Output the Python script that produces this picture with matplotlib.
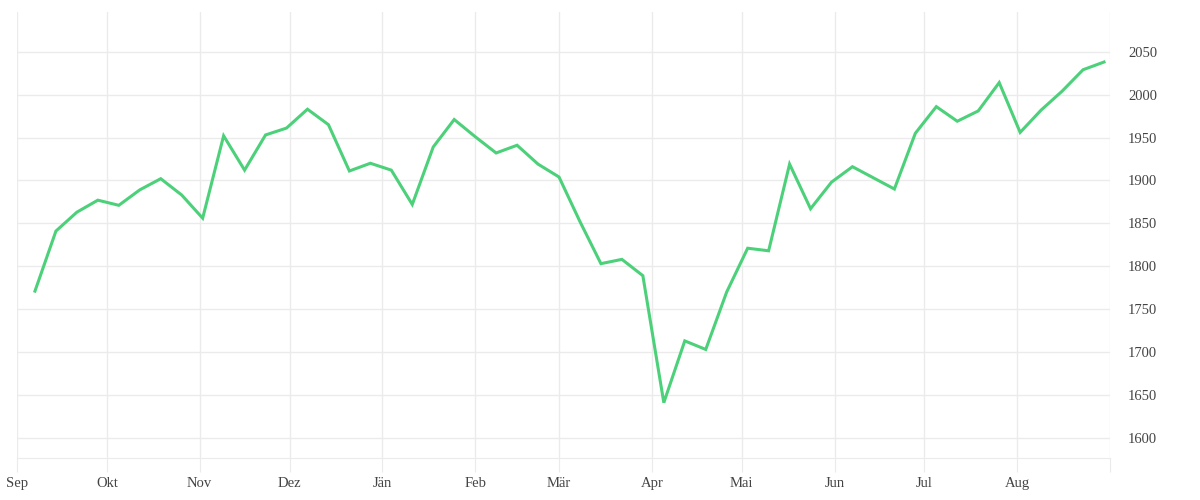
import datetime as dt
import matplotlib
matplotlib.use("Agg")
import matplotlib.pyplot as plt
import matplotlib.dates as mdates

# weekly closing values, Sep 2018 - Aug 2019
start = dt.date(2018, 9, 7)
values = [1771, 1841, 1863, 1877, 1871, 1889, 1902, 1883, 1856, 1952,
          1912, 1953, 1961, 1983, 1965, 1911, 1920, 1912, 1872, 1939,
          1971, 1951, 1932, 1941, 1919, 1904, 1852, 1803, 1808, 1789,
          1641, 1713, 1703, 1770, 1821, 1818, 1919, 1867, 1898, 1916,
          1903, 1890, 1955, 1986, 1969, 1981, 2014, 1956, 1982, 2004,
          2029, 2038]
dates = [start + dt.timedelta(weeks=i) for i in range(len(values))]

month_labels = ["Sep", "Okt", "Nov", "Dez", "Jän", "Feb", "Mär",
                "Apr", "Mai", "Jun", "Jul", "Aug", ""]
month_starts = [dt.date(2018 + (8 + i) // 12, (8 + i) % 12 + 1, 1) for i in range(13)]
y_ticks = [1600, 1650, 1700, 1750, 1800, 1850, 1900, 1950, 2000, 2050]

plt.rcParams["font.family"] = ["Liberation Serif", "DejaVu Serif"]

fig = plt.figure(figsize=(12, 5), dpi=100)
ax = fig.add_axes([17 / 1200, 1 - 458 / 500, (1110 - 17) / 1200, (458 - 12) / 500])

ax.plot(dates, values, color="#4cd17a", linewidth=2.2, solid_joinstyle="miter")

ax.set_xlim(month_starts[0], month_starts[-1])
ax.set_ylim(1576.5, 2096.3)
ax.set_xticks(month_starts)
ax.set_xticklabels(month_labels)
ax.set_yticks(y_ticks)

ax.yaxis.tick_right()
ax.grid(True, color="#ebebeb", linewidth=1)
ax.set_axisbelow(True)
for side in ["top", "left", "right"]:
    ax.spines[side].set_visible(False)
ax.spines["bottom"].set_color("#ebebeb")
ax.tick_params(axis="x", length=10, color="#ebebeb", pad=4, labelsize=10.5, labelcolor="#444444")
ax.tick_params(axis="y", length=0, pad=13, labelsize=10.5, labelcolor="#444444")

fig.savefig("out.png", dpi=100)
plt.close(fig)
